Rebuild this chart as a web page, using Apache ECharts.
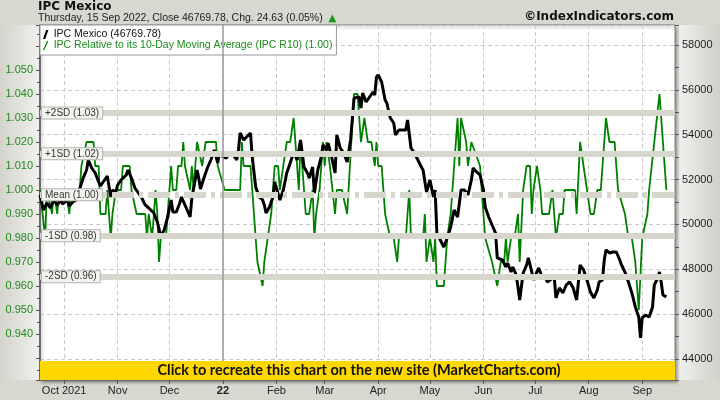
<!DOCTYPE html>
<html><head><meta charset="utf-8">
<script src="https://cdn.jsdelivr.net/npm/echarts@6/dist/echarts.min.js"></script>
<style>html,body{margin:0;padding:0;background:#fff}#c{width:720px;height:400px}</style>
</head><body><div id="c"></div>
<script>
// ---- data ----
const startDate = [2021, 8, 17];   // 2021-09-17, first calendar day on the axis
const dayCount = 369;              // calendar days shown
const tickDates = ['2021-10-01','2021-11-01','2021-12-01','2022-01-01','2022-02-01','2022-03-01','2022-04-01','2022-05-01','2022-06-01','2022-07-01','2022-08-01','2022-09-01'];
const tickLabels = ['Oct 2021','Nov','Dec','22','Feb','Mar','Apr','May','Jun','Jul','Aug','Sep'];

// IPC Mexico close (day offset from start, value)
const priceDays = [0,2,4,6,8,10,12,13,16,17,19,21,23,25,27,28,30,32,34,35,37,39,41,42,44,45,47,50,51,53,55,57,59,61,63,66,68,70,72,73,74,76,77,79,81,82,84,87,88,89,91,92,93,95,97,99,101,103,104,106,108,110,112,114,115,116,118,122,123,125,127,129,130,131,133,135,136,139,141,143,145,147,149,151,153,155,156,158,159,161,163,164,166,167,169,171,172,174,176,178,180,182,183,185,186,187,189,191,193,194,195,196,198,200,201,203,205,206,208,210,212,213,215,217,219,221,222,224,226,228,229,230,232,234,236,238,240,242,244,246,248,250,251,253,255,257,258,260,262,264,265,268,270,271,273,274,276,277,278,280,282,283,285,286,288,289,291,293,294,298,299,301,303,305,307,309,311,313,315,317,319,321,323,324,326,327,328,330,332,334,336,337,339,341,343,345,347,348,349,351,352,353,355,356,358,359,360,361,363];
const priceValues = [51313,50644,50956,50733,51090,50867,51090,50912,51090,50822,51001,51090,51580,52071,52428,52873,52517,52294,51893,51714,51937,52160,51224,51536,51447,51759,51982,52205,52428,52071,51625,51402,51179,50867,50733,50510,50109,49485,49753,49842,50332,51090,50555,50555,50956,51224,50867,50332,51179,51090,52428,52071,51580,52071,52517,52873,53319,52740,53230,53007,52962,53185,53096,52873,53319,54077,53765,54077,53007,51670,51224,51090,50867,50510,50778,51224,51893,51090,51536,52294,52740,53230,52873,53765,52561,52294,52071,52561,51402,52428,53007,53542,53319,53631,53007,52294,53988,53408,53185,52784,53765,55637,55548,55682,55191,55860,55459,55682,55905,55771,56573,56663,56351,55548,55414,54746,54523,53988,54211,54211,54211,54657,53408,53185,52873,52561,52428,51447,51982,51224,51536,49619,49307,48995,49396,49886,50644,50332,51536,51536,51313,51982,52517,52339,52205,51536,50778,50332,49976,49619,48505,48415,48103,48282,47881,48103,47747,47212,46632,47836,48192,48505,47881,47524,47881,48059,47658,47613,47435,47658,46721,47167,46944,47301,47435,47167,46632,48192,47970,47524,46989,46721,47078,47435,47524,48415,48861,48727,48772,48772,48415,48192,47881,47435,46944,46320,45874,44938,45830,45963,46052,45874,46320,47301,47613,47881,47435,46855,46769.78];

// IPC relative to its 10-day moving average
const r10Days = [0,3,4,7,8,10,11,15,17,18,23,24,25,27,31,32,34,35,38,39,41,42,44,47,48,52,53,56,61,62,63,65,67,68,69,70,73,76,77,79,80,82,83,84,87,88,89,91,94,95,96,102,103,104,107,116,117,118,122,123,126,129,130,131,132,134,136,138,139,141,143,145,147,150,151,153,154,156,158,159,160,162,164,165,166,168,171,172,175,178,182,184,185,186,188,190,192,194,195,196,198,200,201,203,205,207,208,212,214,215,222,223,224,226,228,229,230,234,236,238,239,240,242,243,244,247,248,250,251,255,256,258,262,263,265,267,269,270,271,273,275,277,278,280,282,284,285,286,288,290,291,295,297,299,301,303,304,310,311,313,314,319,321,323,325,328,330,333,335,339,341,343,345,347,349,352,353,359,363];
const r10Values = [1.00,0.98,1.00,0.99,1.00,0.99,1.00,1.00,0.99,1.00,1.00,1.01,1.01,1.02,1.02,1.01,1.01,0.99,0.99,1.00,0.98,0.99,1.00,1.00,1.01,1.01,1.00,0.99,0.99,0.98,0.99,0.98,1.00,0.99,0.97,0.98,0.98,1.01,1.00,1.00,1.01,1.01,1.02,1.01,1.00,1.01,1.00,1.02,1.01,1.01,1.02,1.02,1.01,1.01,1.00,1.00,1.02,1.01,1.01,1.00,0.97,0.96,0.97,0.97,0.98,0.99,1.01,1.01,1.00,1.01,1.02,1.02,1.03,1.00,1.02,1.00,0.99,0.99,1.00,0.98,0.99,1.00,1.02,1.01,1.02,1.01,0.99,1.00,1.00,0.99,1.04,1.04,1.03,1.02,1.03,1.02,1.02,1.01,1.02,1.01,1.01,0.99,0.99,0.98,0.98,0.97,0.98,0.98,1.00,0.98,0.98,0.99,0.97,0.98,0.97,0.98,0.96,0.96,0.98,0.99,1.00,1.01,1.03,1.01,1.03,1.02,1.01,1.02,1.02,1.01,1.00,0.98,0.97,0.97,0.96,0.97,0.97,0.98,0.97,0.98,0.98,0.99,0.97,1.00,1.01,1.01,0.99,1.00,1.01,1.00,0.99,0.99,1.00,0.98,0.99,0.99,1.00,1.00,0.99,1.02,1.02,0.99,0.99,1.00,1.00,1.03,1.02,1.02,1.00,0.99,0.98,0.98,0.97,0.95,0.98,0.99,1.00,1.04,1.00];

// standard-deviation bands of the R10 indicator
const bandValues = [1.0321, 1.0151, 0.998, 0.9809, 0.9639];
const bandLabels = ['+2SD (1.03)', '+1SD (1.02)', 'Mean (1.00)', '-1SD (0.98)', '-2SD (0.96)'];

const priceName = 'IPC Mexico (46769.78)';
const r10Name = 'IPC Relative to its 10-Day Moving Average (IPC R10) (1.00)';
const titleText = 'IPC Mexico';
const subText = 'Thursday, 15 Sep 2022, Close 46769.78, Chg. 24.63 (0.05%)';
const copyright = '©IndexIndicators.com';
const bannerText = 'Click to recreate this chart on the new site (MarketCharts.com)';

// ---- build ----
const days = [];
for (let i = 0; i < dayCount; i++) {
  const d = new Date(Date.UTC(startDate[0], startDate[1], startDate[2] + i));
  days.push(d.toISOString().slice(0, 10));
}
const isTick = (idx, val) => tickDates.indexOf(val) >= 0;
const priceData = priceDays.map((d, i) => [d, priceValues[i]]);
const r10Data = r10Days.map((d, i) => [d, r10Values[i]]);

const TXT = 'Liberation Sans';
const GREEN = '#008000';

const chart = echarts.init(document.getElementById('c'), null, {renderer: 'canvas'});
chart.setOption({
  animation: false,
  backgroundColor: {type: 'linear', x: 0, y: 0, x2: 1, y2: 0, colorStops: [
    {offset: 0, color: '#d4d4cc'}, {offset: 0.053, color: '#efefec'},
    {offset: 0.944, color: '#efefec'}, {offset: 1, color: '#d0d0c8'}]},
  title: [
    {text: titleText, subtext: subText + ' {up|▲}', left: 38, top: 1, padding: 0, itemGap: 0,
     textStyle: {fontFamily: 'DejaVu Sans', fontWeight: 'bold', fontSize: 12, color: '#111'},
     subtextStyle: {fontFamily: TXT, fontSize: 10.5, color: '#222',
       rich: {up: {color: '#129a12', fontSize: 10, fontFamily: 'DejaVu Sans', padding: [0, 0, 0, 3]}}}},
    {text: copyright, right: 46, top: 11, padding: 0,
     textStyle: {fontFamily: 'DejaVu Sans', fontWeight: 'bold', fontSize: 12, color: '#111'}}
  ],
  legend: {
    orient: 'vertical', left: 40, top: 25, padding: [4, 4, 4, 3], itemGap: 0,
    itemWidth: 6, itemHeight: 9, backgroundColor: '#fff', borderColor: '#999', borderWidth: 1,
    textStyle: {fontFamily: TXT, fontSize: 10.5, color: '#111', lineHeight: 11},
    data: [
      {name: priceName, icon: 'path://M0,10L3.5,0L6,0L2.5,10Z'},
      {name: r10Name, icon: 'path://M0,10L4.5,0L6,0L1.5,10Z', textStyle: {color: '#1a8a1a'}}
    ]
  },
  grid: {left: 40, right: 45, top: 25, bottom: 20, show: true, backgroundColor: '#fff',
    borderColor: '#808080', borderWidth: 1,
    shadowColor: 'rgba(0,0,0,0.35)', shadowBlur: 3, shadowOffsetX: 2, shadowOffsetY: 2},
  xAxis: {
    type: 'category', data: days, boundaryGap: false,
    axisLine: {show: true, lineStyle: {color: '#666'}},
    axisTick: {show: true, interval: isTick, length: 4, lineStyle: {color: '#555'}},
    axisLabel: {interval: isTick, margin: 5, fontFamily: TXT, fontSize: 11, color: '#222',
      formatter: (val) => {
        const lab = tickLabels[tickDates.indexOf(val)];
        return lab === '22' ? '{b|' + lab + '}' : lab;
      },
      rich: {b: {fontFamily: TXT, fontSize: 11, fontWeight: 'bold', color: '#222'}}},
    splitLine: {show: true, interval: isTick, lineStyle: {color: '#cacaca', type: [4, 3]}}
  },
  yAxis: [
    {type: 'value', position: 'left', min: 0.92083, max: 1.06875, minInterval: 0.01, maxInterval: 0.01,
     axisLine: {show: true, lineStyle: {color: '#555', width: 1.5}},
     axisTick: {show: true, length: 4, lineStyle: {color: '#555'}},
     minorTick: {show: true, splitNumber: 2, length: 3, lineStyle: {color: '#555'}},
     splitLine: {show: false},
     axisLabel: {margin: 7, fontFamily: TXT, fontSize: 11, color: '#1e8b1e',
       formatter: (v) => {
         const k = Math.round(v * 100);
         return (Math.abs(v * 100 - k) < 1e-6 && k >= 94 && k <= 105) ? (k / 100).toFixed(3) : '';
       }}},
    {type: 'value', position: 'right', min: 43064, max: 58892, minInterval: 2000, maxInterval: 2000,
     axisLine: {show: false},
     axisTick: {show: true, length: 4, lineStyle: {color: '#555'}},
     minorTick: {show: true, splitNumber: 2, length: 4, lineStyle: {color: '#555'}},
     splitLine: {show: true, lineStyle: {color: '#cacaca', type: [4, 3]}},
     axisLabel: {margin: 7, fontFamily: TXT, fontSize: 11, color: '#222',
       formatter: (v) => (v % 2000 === 0 && v >= 44000 && v <= 58000) ? String(v) : ''}}
  ],
  series: [
    {name: 'bands', type: 'line', yAxisIndex: 0, data: [], z: 1, silent: true,
     markLine: {silent: true, symbol: 'none', animation: false, precision: 5, label: {show: false},
       lineStyle: {color: '#d6d6cc', width: 6, opacity: 1},
       data: bandValues.map((v, i) => ({yAxis: v, lineStyle: {type: i === 2 ? [22, 5, 4, 5] : 'solid'}}))}},
    {name: 'yearline', type: 'line', data: [], z: 1, silent: true,
     markLine: {silent: true, symbol: 'none', animation: false, label: {show: false},
       lineStyle: {color: '#9a9a9a', width: 1.5, type: 'solid'},
       data: [{xAxis: tickDates[tickLabels.indexOf('22')]}]}},
    {name: r10Name, type: 'line', yAxisIndex: 0, data: r10Data, showSymbol: false, z: 3,
     color: GREEN, lineStyle: {color: GREEN, width: 1.8}},
    {name: priceName, type: 'line', yAxisIndex: 1, data: priceData, showSymbol: false, z: 4,
     color: '#000', lineStyle: {color: '#000', width: 3}},
    {name: 'bandlabels', type: 'line', yAxisIndex: 0, data: [], z: 10, silent: true,
     markLine: {silent: true, symbol: 'none', animation: false, precision: 5,
       lineStyle: {color: 'rgba(0,0,0,0)', width: 1},
       data: bandValues.map((v, i) => ({yAxis: v, label: {show: true, position: 'insideStart', distance: [2, 0],
         formatter: bandLabels[i], fontFamily: TXT, fontSize: 10, lineHeight: 10, color: '#333',
         backgroundColor: '#f3f3ef', borderColor: '#b4b4ac', borderWidth: 1, padding: [1, 3, 0, 3]}}))}}
  ],
  graphic: [
    {type: 'rect', z: -10, silent: true, shape: {x: 0, y: 0, width: 720, height: 25}, style: {fill: '#d8d8d0'}},
    {type: 'rect', z: -10, silent: true, shape: {x: 0, y: 380, width: 720, height: 20}, style: {fill: '#d8d8d0'}},
    {type: 'rect', z: 100, silent: true, shape: {x: 40, y: 361, width: 635, height: 19}, style: {fill: '#ffd700'}},
    {type: 'text', z: 101, silent: true, x: 359, y: 370.5,
     style: {text: bannerText, fill: '#111', font: 'bold 14.5px Lato', textAlign: 'center', textVerticalAlign: 'middle'}}
  ]
});
</script></body></html>
